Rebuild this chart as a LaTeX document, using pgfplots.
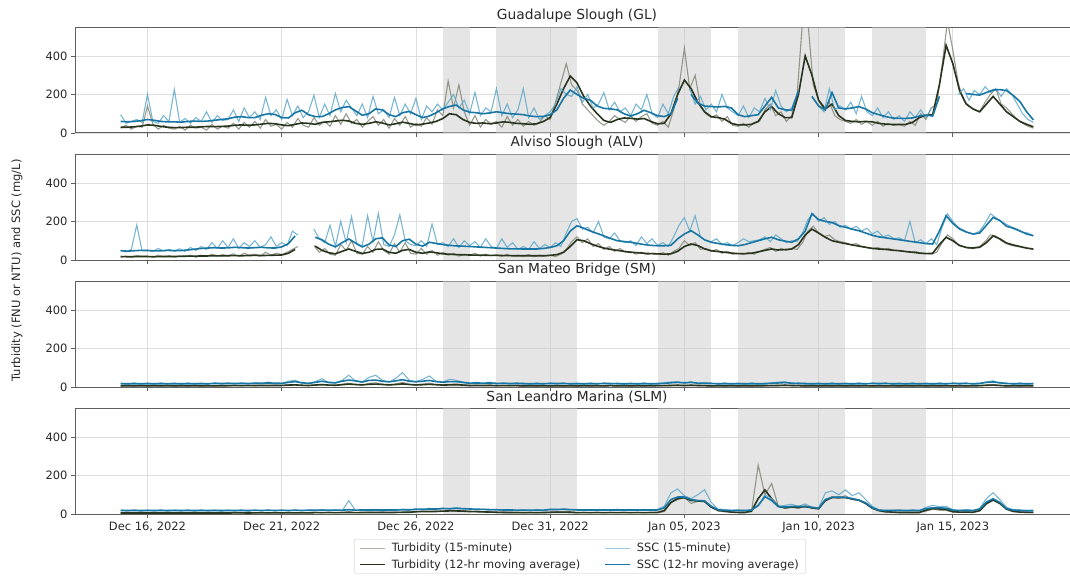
\documentclass[border=0pt]{standalone}
\usepackage{fontspec}
\setmainfont{DejaVu Sans}
\usepackage{pgfplots}
\usepackage{pgfplotstable}
\pgfplotsset{compat=1.18}
\definecolor{turbq}{RGB}{125,130,112}
\definecolor{turbma}{RGB}{40,52,30}
\definecolor{sscq}{RGB}{88,164,200}
\definecolor{sscma}{RGB}{24,118,164}
\definecolor{bandc}{RGB}{204,204,204}
\definecolor{gridc}{RGB}{222,222,222}
\definecolor{axc}{RGB}{95,95,95}
\definecolor{txc}{RGB}{40,40,40}

% ---------- Guadalupe Slough: 15-minute series (every 0.2 day from Dec 15) ----------
\pgfplotstableread[row sep=\\]{
tq sq\\
25 95\\ 40 50\\ 20 60\\ 35 70\\ 30 55\\
140 200\\ 45 60\\ 20 50\\ 40 90\\ 25 60\\
20 226\\ 35 55\\ 15 75\\ 40 50\\ 25 80\\
30 60\\ 15 110\\ 45 55\\ 20 90\\ 35 65\\
25 70\\ 50 120\\ 20 60\\ 55 130\\ 30 80\\
60 110\\ 25 70\\ 70 185\\ 35 90\\ 45 120\\
20 70\\ 55 175\\ 30 90\\ 75 140\\ 40 80\\
30 110\\ 80 195\\ 40 80\\ 60 150\\ 35 90\\
90 205\\ 45 110\\ 100 170\\ 50 130\\ 70 90\\
30 150\\ 60 80\\ 85 190\\ 40 100\\ 70 120\\
25 80\\ 75 185\\ 40 90\\ 85 150\\ 30 100\\
50 180\\ 35 70\\ 80 140\\ 45 110\\ 120 150\\
90 120\\ 270 160\\ 130 200\\ 250 130\\ 110 170\\
40 100\\ 90 210\\ 30 90\\ 70 130\\ 45 110\\
60 230\\ 30 90\\ 85 150\\ 40 80\\ 70 120\\
35 230\\ 60 80\\ 40 130\\ 55 70\\ 90 90\\
70 110\\ 160 150\\ 260 230\\ 360 200\\ 250 190\\
220 240\\ 150 160\\ 120 200\\ 90 130\\ 60 150\\
40 210\\ 60 120\\ 90 160\\ 70 110\\ 55 130\\
90 90\\ 60 150\\ 85 120\\ 100 200\\ 50 100\\
40 80\\ 60 150\\ 30 100\\ 120 190\\ 240 240\\
440 nan\\ 230 230\\ 300 150\\ 140 190\\ 100 120\\
80 150\\ 95 110\\ 60 200\\ 85 130\\ 40 110\\
35 90\\ 50 140\\ 30 80\\ 55 130\\ 60 110\\
120 180\\ 150 120\\ 90 220\\ 110 140\\ 60 110\\
90 130\\ 200 200\\ 580 nan\\ 580 nan\\ 250 180\\
170 140\\ 120 110\\ 160 230\\ 90 120\\ 70 140\\
60 120\\ 50 160\\ 70 100\\ 45 190\\ 60 110\\
40 90\\ 60 130\\ 35 80\\ 50 110\\ 40 70\\
45 90\\ 35 60\\ 60 110\\ 40 80\\ 100 120\\
70 80\\ 130 130\\ 150 nan\\ 350 nan\\ 580 nan\\
430 nan\\ 260 200\\ 170 230\\ 140 170\\ 120 220\\
110 200\\ 160 240\\ 200 210\\ 230 230\\ 150 190\\
130 230\\ 100 200\\ 70 150\\ 50 100\\ 35 70\\
25 55\\
}\glq

% ---------- Guadalupe Slough: 12-hr moving averages (every 0.25 day) ----------
\pgfplotstableread[row sep=\\]{
tm sm\\
30 60\\ 30 58\\ 32 60\\ 36 64\\
42 70\\ 40 66\\ 34 60\\ 30 58\\
28 58\\ 28 56\\ 30 60\\ 30 62\\
32 60\\ 34 62\\ 33 66\\ 34 70\\
36 74\\ 40 82\\ 42 85\\ 40 80\\
42 80\\ 46 92\\ 50 100\\ 48 96\\
42 80\\ 38 78\\ 45 105\\ 52 118\\
50 95\\ 45 85\\ 55 85\\ 58 100\\
62 120\\ 66 132\\ 62 137\\ 50 115\\
45 92\\ 50 100\\ 58 125\\ 52 120\\
42 95\\ 48 85\\ 56 105\\ 50 112\\
42 95\\ 46 80\\ 52 88\\ 60 105\\
75 125\\ 100 138\\ 95 145\\ 70 120\\
55 108\\ 50 105\\ 52 100\\ 48 104\\
52 110\\ 58 105\\ 55 100\\ 50 98\\
48 95\\ 45 88\\ 48 85\\ 60 86\\
80 95\\ 150 120\\ 230 180\\ 296 223\\
260 200\\ 190 180\\ 140 170\\ 100 140\\
65 128\\ 55 125\\ 70 120\\ 78 100\\
76 88\\ 72 100\\ 75 118\\ 60 105\\
48 90\\ 50 85\\ 100 100\\ 200 180\\
275 nan\\ 230 200\\ 160 155\\ 110 140\\
85 137\\ 80 135\\ 72 138\\ 50 130\\
42 95\\ 42 85\\ 45 90\\ 60 95\\
110 140\\ 137 185\\ 100 130\\ 80 120\\
80 118\\ 200 220\\ 400 nan\\ 300 190\\
170 140\\ 125 120\\ 150 210\\ 90 130\\
65 125\\ 60 130\\ 58 137\\ 60 125\\
58 105\\ 50 95\\ 46 85\\ 44 78\\
44 76\\ 45 76\\ 55 78\\ 80 88\\
92 93\\ 95 88\\ 250 190\\ 455 nan\\
360 nan\\ 220 nan\\ 150 205\\ 125 200\\
110 197\\ 150 210\\ 190 223\\ 150 225\\
110 220\\ 85 195\\ 60 163\\ 45 110\\
32 68\\
}\glm

% ---------- Alviso Slough: 15-minute series (every 0.2 day) ----------
\pgfplotstableread[row sep=\\]{
tq sq\\
15 50\\ 20 42\\ 12 55\\ 22 182\\ 18 48\\
20 52\\ 14 45\\ 25 60\\ 16 46\\ 22 55\\
15 48\\ 22 58\\ 18 45\\ 25 65\\ 14 50\\
25 70\\ 18 55\\ 30 90\\ 20 60\\ 28 100\\
22 65\\ 32 110\\ 18 60\\ 35 90\\ 24 70\\
30 100\\ 20 65\\ 40 80\\ 25 120\\ 35 70\\
28 90\\ 40 75\\ 55 150\\ 70 130\\ nan nan\\
nan nan\\ 75 160\\ 40 110\\ 60 90\\ 30 180\\
25 70\\ 80 200\\ 50 90\\ 100 225\\ 35 80\\
30 75\\ 70 230\\ 40 95\\ 95 242\\ 50 80\\
30 70\\ 85 130\\ 40 234\\ 90 100\\ 35 80\\
30 75\\ 60 100\\ 30 70\\ 50 187\\ 25 80\\
40 90\\ 25 70\\ 35 110\\ 20 65\\ 30 100\\
25 75\\ 35 95\\ 20 65\\ 30 110\\ 22 70\\
28 60\\ 20 110\\ 30 65\\ 18 90\\ 25 55\\
20 70\\ 28 55\\ 18 95\\ 25 60\\ 20 80\\
25 65\\ 18 90\\ 30 70\\ 55 140\\ 95 200\\
120 215\\ 90 160\\ 110 170\\ 70 140\\ 85 200\\
55 120\\ 70 110\\ 45 140\\ 60 100\\ 40 90\\
45 100\\ 30 75\\ 40 120\\ 28 85\\ 35 110\\
30 75\\ 38 90\\ 25 70\\ 45 120\\ 60 180\\
100 220\\ 75 150\\ 90 230\\ 55 120\\ 60 100\\
45 95\\ 55 110\\ 35 80\\ 45 90\\ 30 75\\
35 90\\ 28 110\\ 40 95\\ 30 100\\ 45 105\\
55 120\\ 65 95\\ 45 130\\ 60 110\\ 50 90\\
60 100\\ 55 95\\ 90 140\\ 150 210\\ 175 240\\
140 200\\ 120 220\\ 130 185\\ 105 200\\ 95 170\\
90 180\\ 80 160\\ 85 175\\ 70 150\\ 65 165\\
60 135\\ 65 150\\ 55 120\\ 60 130\\ 50 110\\
50 115\\ 45 100\\ 40 200\\ 45 90\\ 35 105\\
35 85\\ 30 110\\ 40 80\\ 90 170\\ 130 240\\
110 200\\ 80 170\\ 70 155\\ 60 140\\ 65 135\\
70 150\\ 95 190\\ 130 240\\ 125 220\\ 100 200\\
85 185\\ 75 170\\ 70 160\\ 65 145\\ 60 140\\
55 125\\
}\alq

% ---------- Alviso Slough: 12-hr moving averages (every 0.25 day) ----------
\pgfplotstableread[row sep=\\]{
tm sm\\
18 48\\ 17 46\\ 18 48\\ 18 50\\
18 49\\ 17 47\\ 18 48\\ 18 50\\
18 48\\ 19 49\\ 20 52\\ 20 56\\
21 60\\ 21 62\\ 22 64\\ 21 62\\
22 63\\ 23 66\\ 22 64\\ 23 62\\
24 64\\ 23 66\\ 24 63\\ 25 62\\
26 68\\ 35 85\\ 55 125\\ nan nan\\
nan nan\\ 72 118\\ 50 105\\ 38 82\\
32 68\\ 45 90\\ 57 109\\ 45 88\\
34 68\\ 40 82\\ 55 110\\ 57 115\\
40 78\\ 35 70\\ 50 100\\ 55 108\\
40 82\\ 35 72\\ 42 92\\ 38 86\\
32 80\\ 30 76\\ 28 73\\ 27 72\\
26 70\\ 25 68\\ 25 66\\ 24 64\\
24 62\\ 23 60\\ 23 58\\ 22 58\\
22 57\\ 22 57\\ 22 57\\ 22 60\\
24 65\\ 28 74\\ 40 100\\ 70 150\\
105 178\\ 100 165\\ 85 150\\ 72 138\\
62 125\\ 55 112\\ 50 100\\ 45 96\\
40 92\\ 38 86\\ 35 80\\ 33 76\\
32 74\\ 30 74\\ 32 76\\ 45 110\\
70 135\\ 83 152\\ 75 130\\ 58 105\\
48 92\\ 44 86\\ 40 80\\ 36 76\\
33 74\\ 33 80\\ 35 90\\ 42 100\\
50 110\\ 57 118\\ 52 105\\ 54 98\\
57 92\\ 80 110\\ 130 150\\ 160 240\\
140 210\\ 118 200\\ 100 195\\ 92 178\\
85 170\\ 78 160\\ 72 152\\ 66 140\\
60 128\\ 57 120\\ 55 115\\ 51 110\\
48 105\\ 44 100\\ 40 95\\ 36 90\\
33 85\\ 35 83\\ 80 150\\ 118 230\\
100 190\\ 75 161\\ 65 145\\ 62 135\\
66 140\\ 90 180\\ 125 221\\ 110 205\\
88 175\\ 78 165\\ 70 150\\ 62 135\\
57 126\\
}\alm

% ---------- San Mateo Bridge (every 0.25 day): 15-min and 12-hr averages ----------
\pgfplotstableread[row sep=\\]{
tq sq tm sm\\
4 21 6 17\\ 8 13 6 17\\ 5 22 6 17\\ 9 14 6 17\\
4 21 6 17\\ 8 13 6 17\\ 5 22 6 17\\ 9 14 6 17\\
4 21 6 17\\ 8 13 6 17\\ 5 22 6 17\\ 9 14 6 17\\
4 21 6 17\\ 8 13 6 17\\ 5 23 6 18\\ 9 14 6 18\\
5 22 7 18\\ 9 14 7 18\\ 6 23 7 18\\ 10 15 7 18\\
6 24 8 19\\ 10 15 8 20\\ 7 26 8 21\\ 11 16 8 20\\
7 18 8 19\\ 12 30 10 24\\ 10 35 11 28\\ 8 20 9 22\\
6 18 8 19\\ 12 28 10 24\\ 14 43 12 30\\ 9 22 10 24\\
8 20 9 22\\ 14 35 12 30\\ 20 61 15 36\\ 12 30 13 32\\
10 25 11 26\\ 18 50 14 34\\ 22 61 15 36\\ 14 35 13 30\\
10 25 11 27\\ 16 45 13 32\\ 24 75 16 38\\ 14 35 13 30\\
10 28 11 27\\ 15 40 12 30\\ 20 57 14 34\\ 12 30 12 28\\
10 25 10 25\\ 13 40 11 28\\ 15 35 12 28\\ 10 25 10 24\\
6 15 8 20\\ 10 24 8 21\\ 7 16 8 20\\ 11 25 8 21\\
5 14 7 19\\ 9 23 7 19\\ 6 15 7 18\\ 10 22 7 18\\
4 21 6 17\\ 8 13 6 17\\ 5 22 6 17\\ 9 14 6 17\\
4 22 6 18\\ 8 14 6 18\\ 5 22 6 18\\ 9 13 6 17\\
4 21 6 17\\ 8 13 6 17\\ 5 22 6 17\\ 9 14 6 17\\
5 22 6 18\\ 9 14 7 18\\ 5 21 6 17\\ 8 13 6 17\\
4 21 6 17\\ 8 13 6 17\\ 5 22 6 17\\ 9 14 6 17\\
5 14 7 18\\ 9 23 7 19\\ 8 26 8 22\\ 10 28 9 24\\
6 18 8 22\\ 10 28 9 24\\ 6 16 8 20\\ 9 24 7 19\\
4 21 6 18\\ 8 13 6 17\\ 5 22 6 17\\ 9 14 6 17\\
4 21 6 17\\ 8 13 6 17\\ 5 22 6 17\\ 9 14 6 17\\
5 14 7 18\\ 9 23 7 19\\ 7 25 8 21\\ 10 28 9 23\\
6 16 8 20\\ 9 22 7 18\\ 5 21 6 17\\ 9 14 6 17\\
4 21 6 17\\ 8 13 6 17\\ 5 22 6 17\\ 9 14 6 17\\
4 21 6 17\\ 8 13 6 17\\ 5 22 6 17\\ 9 14 6 17\\
4 22 6 18\\ 8 14 6 18\\ 5 22 6 18\\ 9 13 6 17\\
4 21 6 17\\ 8 13 6 17\\ 5 22 6 17\\ 9 14 6 17\\
4 21 6 17\\ 8 13 6 17\\ 5 22 6 17\\ 9 14 6 17\\
4 22 6 18\\ 8 14 6 18\\ 5 22 6 18\\ 9 13 6 17\\
6 16 7 19\\ 10 26 9 24\\ 12 32 10 26\\ 8 20 8 22\\
4 21 6 18\\ 8 13 6 17\\ 5 22 6 17\\ 9 14 6 17\\
5 20 6 17\\
}\smt

% ---------- San Leandro Marina (every 0.25 day): 15-min and 12-hr averages ----------
\pgfplotstableread[row sep=\\]{
tq sq tm sm\\
4 21 5 18\\ 8 15 5 18\\ 5 22 5 18\\ 8 14 5 18\\
4 21 5 18\\ 8 15 5 18\\ 5 22 5 18\\ 8 14 5 18\\
4 21 5 18\\ 8 15 5 18\\ 5 22 5 18\\ 8 14 5 18\\
4 22 5 18\\ 8 15 5 18\\ 5 21 5 18\\ 8 14 5 18\\
4 21 5 18\\ 8 15 6 18\\ 5 22 6 18\\ 8 14 5 18\\
5 22 6 19\\ 9 15 6 19\\ 5 23 6 19\\ 9 15 6 19\\
5 22 6 19\\ 9 15 6 19\\ 6 23 6 19\\ 9 16 6 19\\
6 23 6 19\\ 9 16 7 20\\ 6 24 7 20\\ 10 16 7 20\\
6 22 7 20\\ 9 16 7 20\\ 12 70 8 22\\ 7 18 7 20\\
7 22 8 21\\ 10 16 8 21\\ 8 24 8 21\\ 11 17 8 21\\
7 23 8 21\\ 10 17 8 21\\ 8 25 9 22\\ 11 18 9 22\\
10 28 12 24\\ 14 20 13 25\\ 12 30 13 26\\ 15 22 13 26\\
14 32 15 28\\ 18 24 16 28\\ 15 34 16 29\\ 18 26 15 28\\
12 28 13 26\\ 15 22 12 25\\ 10 25 11 24\\ 13 20 10 23\\
8 24 9 22\\ 11 18 8 21\\ 7 22 8 21\\ 10 17 7 20\\
6 23 7 20\\ 9 16 7 20\\ 6 24 7 20\\ 10 17 7 20\\
8 26 9 23\\ 12 20 10 24\\ 10 28 10 24\\ 12 21 9 23\\
6 24 7 21\\ 9 17 7 21\\ 6 24 7 21\\ 10 17 7 21\\
6 24 7 21\\ 9 17 7 21\\ 7 25 7 21\\ 10 18 7 21\\
6 24 7 21\\ 9 17 7 21\\ 6 24 7 21\\ 10 17 7 21\\
8 24 8 21\\ 12 40 18 32\\ 60 110 60 75\\ 75 130 80 88\\
85 95 85 88\\ 55 80 70 75\\ 65 100 68 70\\ 70 126 65 68\\
40 60 35 40\\ 15 25 20 22\\ 12 24 14 19\\ 10 18 10 18\\
8 22 8 18\\ 10 17 8 18\\ 12 24 15 20\\ 254 40 80 45\\
100 100 125 90\\ 158 80 80 70\\ 40 40 40 38\\ 30 45 32 36\\
35 50 36 39\\ 28 40 36 39\\ 42 52 38 40\\ 30 35 32 35\\
25 30 28 30\\ 70 110 70 75\\ 90 120 85 87\\ 80 100 86 88\\
95 125 85 86\\ 75 95 78 80\\ 70 110 72 72\\ 55 75 55 58\\
30 40 30 32\\ 15 22 18 20\\ 10 18 12 18\\ 9 20 10 18\\
7 22 8 18\\ 10 16 8 18\\ 7 22 8 18\\ 10 16 8 18\\
15 35 20 28\\ 25 45 28 32\\ 20 38 26 32\\ 18 40 24 30\\
10 22 12 20\\ 8 18 10 18\\ 12 24 10 18\\ 9 17 9 18\\
15 30 18 25\\ 50 80 55 62\\ 75 110 72 79\\ 55 75 55 60\\
25 35 25 28\\ 12 22 14 20\\ 10 22 10 18\\ 8 18 9 17\\
7 20 8 17\\
}\slm

\pgfplotsset{
  panel/.style={
    scale only axis, width=1004pt, height=106pt, anchor=north west,
    xmin=-2.7, xmax=34.7, ymin=0, ymax=550,
    xtick={0,5,...,30}, ytick={0,200,400}, xticklabels={},
    grid=major, major grid style={draw=gridc, line width=0.8pt},
    tick align=outside, tick pos=left, major tick length=4pt,
    axis line style={draw=axc, line width=1pt},
    every tick/.style={draw=axc, line width=0.8pt},
    ticklabel style={font=\fontsize{11.5}{13}\selectfont, text=txc},
    title style={font=\fontsize{13.8}{16}\selectfont, text=txc, yshift=-5pt},
    /pgf/number format/assume math mode=true,
    unbounded coords=jump,
  },
  bandst/.style={fill=bandc, fill opacity=0.5, draw=none, forget plot},
  tqst/.style={draw=turbq, line width=1.1pt, opacity=0.8, forget plot},
  tmst/.style={draw=turbma, line width=1.6pt, forget plot},
  sqst/.style={draw=sscq, line width=1.1pt, opacity=0.8, forget plot},
  smst/.style={draw=sscma, line width=1.6pt, forget plot},
}
\newcommand{\bands}{%
  \addplot[bandst] coordinates {(11,0) (11,550) (12,550) (12,0)};
  \addplot[bandst] coordinates {(13,0) (13,550) (16,550) (16,0)};
  \addplot[bandst] coordinates {(19,0) (19,550) (21,550) (21,0)};
  \addplot[bandst] coordinates {(22,0) (22,550) (26,550) (26,0)};
  \addplot[bandst] coordinates {(27,0) (27,550) (29,550) (29,0)};
}

\begin{document}
\begin{tikzpicture}
\useasboundingbox (0pt,0pt) rectangle (1070pt,-576pt);

\begin{axis}[panel, at={(75pt,-27pt)}, title={Guadalupe Slough (GL)}]
\bands
\addplot[tqst] table[x expr=\coordindex*0.2-1, y=tq] {\glq};
\addplot[tmst] table[x expr=\coordindex*0.25-1, y=tm] {\glm};
\addplot[sqst] table[x expr=\coordindex*0.2-1, y=sq] {\glq};
\addplot[smst] table[x expr=\coordindex*0.25-1, y=sm] {\glm};
\end{axis}

\begin{axis}[panel, at={(75pt,-154pt)}, title={Alviso Slough (ALV)}]
\bands
\addplot[tqst] table[x expr=\coordindex*0.2-1, y=tq] {\alq};
\addplot[tmst] table[x expr=\coordindex*0.25-1, y=tm] {\alm};
\addplot[sqst] table[x expr=\coordindex*0.2-1, y=sq] {\alq};
\addplot[smst] table[x expr=\coordindex*0.25-1, y=sm] {\alm};
\end{axis}

\begin{axis}[panel, at={(75pt,-281pt)}, title={San Mateo Bridge (SM)}]
\bands
\addplot[tqst] table[x expr=\coordindex*0.25-1, y=tq] {\smt};
\addplot[tmst] table[x expr=\coordindex*0.25-1, y=tm] {\smt};
\addplot[sqst] table[x expr=\coordindex*0.25-1, y=sq] {\smt};
\addplot[smst] table[x expr=\coordindex*0.25-1, y=sm] {\smt};
\end{axis}

\begin{axis}[panel, at={(75pt,-408pt)}, title={San Leandro Marina (SLM)},
  xticklabels={{Dec 16, 2022},{Dec 21, 2022},{Dec 26, 2022},{Dec 31, 2022},{Jan 05, 2023},{Jan 10, 2023},{Jan 15, 2023}},
  legend columns=2, legend cell align=left,
  legend image code/.code={\draw[#1] (0pt,0pt) -- (25pt,0pt);},
  legend style={at={(0.503,-0.236)}, anchor=north, font=\fontsize{11.4}{13}\selectfont, text=txc,
    draw={rgb,255:red,204;green,204;blue,204}, rounded corners=2pt, inner xsep=5pt, inner ysep=2pt,
    row sep=2pt,
    /tikz/every odd column/.append style={column sep=4pt},
    /tikz/every even column/.append style={column sep=22pt}}]
\bands
\addplot[tqst] table[x expr=\coordindex*0.25-1, y=tq] {\slm};
\addplot[tmst] table[x expr=\coordindex*0.25-1, y=tm] {\slm};
\addplot[sqst] table[x expr=\coordindex*0.25-1, y=sq] {\slm};
\addplot[smst] table[x expr=\coordindex*0.25-1, y=sm] {\slm};
\addlegendimage{draw=turbq, line width=1.3pt, opacity=0.6}
\addlegendentry{Turbidity (15-minute)}
\addlegendimage{draw=sscq, line width=1.3pt, opacity=0.6}
\addlegendentry{SSC (15-minute)}
\addlegendimage{draw=turbma, line width=1.6pt}
\addlegendentry{Turbidity (12-hr moving average)}
\addlegendimage{draw=sscma, line width=1.6pt}
\addlegendentry{SSC (12-hr moving average)}
\end{axis}

\node[rotate=90, font=\fontsize{11.5}{13}\selectfont, text=txc] at (17pt,-270.5pt) {Turbidity (FNU or NTU) and SSC (mg/L)};
\end{tikzpicture}
\end{document}
